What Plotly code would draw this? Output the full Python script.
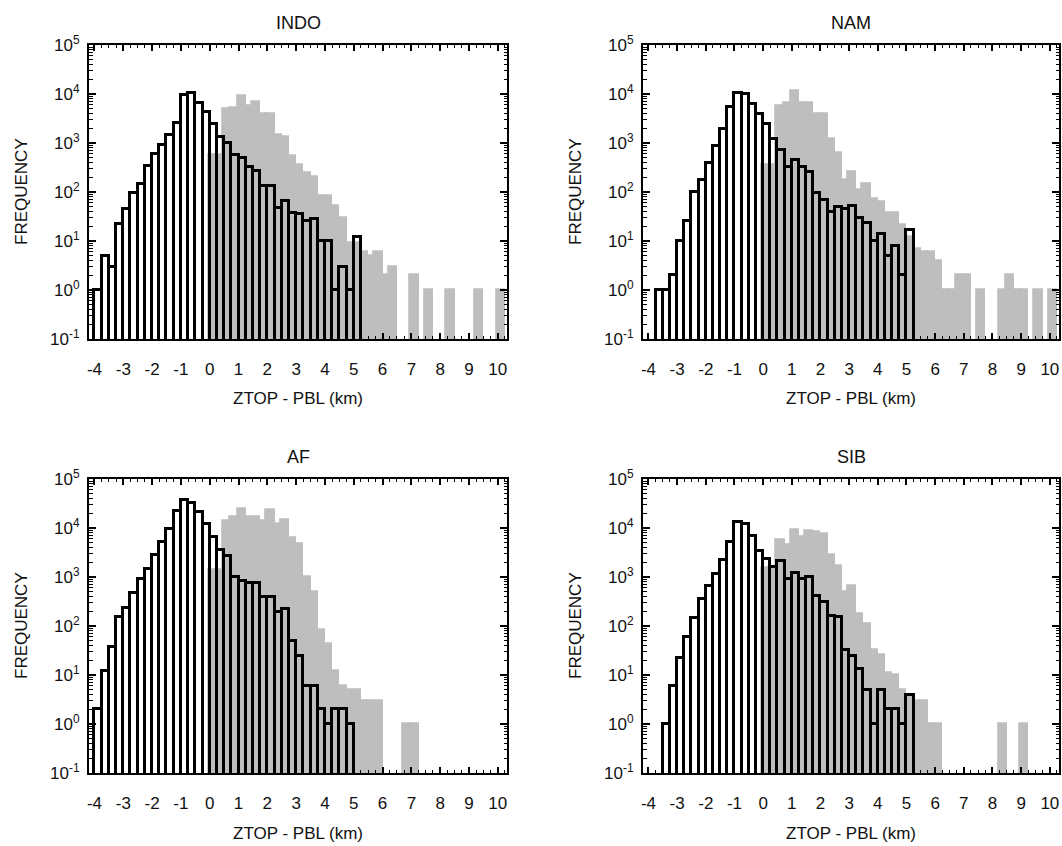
import numpy as np
import plotly.graph_objects as go

# ---------------- data ----------------
BIN_WIDTH = 0.25            # km
GRAY_FIRST_EDGE = -0.035    # left edge of first gray bin (km)

panel_names = ["INDO", "NAM", "AF", "SIB"]

# left edge (km) of the first black-outlined bin in each panel
black_first_edge = {"INDO": -4.0, "NAM": -3.75, "AF": -4.0, "SIB": -3.5}

indo_black = [1, 5, 3, 22, 44, 97, 143, 338, 584, 931, 1490, 2570, 9700, 10300,
              6560, 4230, 2450, 1350, 1000, 560, 500, 322, 268, 132, 130, 48, 65,
              38, 35, 26, 28, 10, 10, 1, 3, 1, 12]
indo_gray = [560, 560, 4950, 5200, 8900, 5700, 6800, 3900, 3900, 1490, 1320, 540,
             360, 245, 200, 83, 83, 53, 30, 9, 9, 6, 5, 6, 2, 3, 0, 0, 2, 0, 1, 0,
             0, 1, 0, 0, 0, 1, 0, 0, 1]

nam_black = [1, 1, 2, 10, 26, 100, 178, 390, 850, 1940, 5500, 10300, 10000, 6300,
             3900, 2450, 1210, 720, 320, 440, 320, 255, 95, 70, 39, 49, 46, 51, 29,
             23, 10, 14, 5, 8, 2, 17]
nam_gray = [350, 350, 5700, 6500, 11500, 6700, 6700, 3900, 3900, 1190, 630, 178,
            255, 108, 147, 73, 63, 37, 37, 21, 12, 7, 6, 6, 4, 1, 1, 2, 2, 0, 1, 0,
            0, 1, 2, 1, 1, 0, 1, 0, 1]

af_black = [2, 12, 38, 155, 236, 475, 890, 1490, 2780, 5100, 9700, 21800, 36700,
            33000, 20800, 12300, 6600, 3500, 2700, 1010, 820, 740, 760, 395, 395,
            193, 218, 49, 24, 6, 6, 2, 1, 2, 2, 1]
af_gray = [1420, 1420, 14000, 16500, 25000, 17000, 16500, 14000, 22800, 12300,
           14700, 6300, 4800, 1010, 490, 81, 42, 12, 6, 5, 5, 3, 3, 3, 0, 0, 0, 1, 1]

sib_black = [1, 6, 22, 61, 143, 360, 650, 1170, 2270, 5200, 13000, 12300, 6900,
             3470, 2340, 1620, 2100, 890, 1210, 890, 1000, 410, 310, 160, 155, 33,
             24, 13, 5, 1, 5, 2, 2, 1, 4]
sib_gray = [1500, 1500, 5600, 4600, 9200, 6600, 8500, 8200, 7500, 2800, 1650, 490,
            670, 172, 108, 33, 26, 11, 10, 5, 4, 3, 3, 1, 1, 0, 0, 0, 0, 0, 0, 0, 0,
            1, 0, 0, 1]

black_counts = {"INDO": indo_black, "NAM": nam_black, "AF": af_black, "SIB": sib_black}
gray_counts = {"INDO": indo_gray, "NAM": nam_gray, "AF": af_gray, "SIB": sib_gray}

x_tick_vals = list(range(-4, 11))
x_tick_text = [str(v) for v in x_tick_vals]
y_tick_vals = [0.1, 1, 10, 100, 1000, 10000, 100000]
y_tick_text = ["10<sup>-1</sup>", "10<sup>0</sup>", "10<sup>1</sup>", "10<sup>2</sup>",
               "10<sup>3</sup>", "10<sup>4</sup>", "10<sup>5</sup>"]
y_minor_vals = [m * 10.0 ** e for e in range(-1, 5) for m in range(2, 10)]

x_title = "ZTOP - PBL (km)"
y_title = "FREQUENCY"

# ---------------- layout geometry (pixels) ----------------
W, H = 1062, 846
cols = [(89, 507), (643, 1059)]
rows = [(45, 339), (479, 773)]
FONT = "Liberation Sans, Arial, Helvetica, sans-serif"
GRAY = "rgb(190,190,190)"
INK = "#111111"


def centers(first_edge, n):
    return first_edge + BIN_WIDTH * (np.arange(n) + 0.5)


def clean(vals):
    return [v if v > 0 else None for v in vals]


fig = go.Figure()
annotations = []
layout_axes = {}

for i, name in enumerate(panel_names):
    r, c = divmod(i, 2)
    x0, x1 = cols[c]
    y0, y1 = rows[r]
    xa = "x" if i == 0 else f"x{i+1}"
    ya = "y" if i == 0 else f"y{i+1}"

    g = gray_counts[name]
    fig.add_trace(go.Bar(
        x=centers(GRAY_FIRST_EDGE, len(g)), y=clean(g), width=BIN_WIDTH,
        marker=dict(color=GRAY, line=dict(color=GRAY, width=2.8)),
        xaxis=xa, yaxis=ya, showlegend=False, hoverinfo="x+y"))
    b = black_counts[name]
    fig.add_trace(go.Bar(
        x=centers(black_first_edge[name], len(b)), y=clean(b), width=BIN_WIDTH,
        marker=dict(color="rgba(0,0,0,0)", line=dict(color="black", width=3)),
        xaxis=xa, yaxis=ya, showlegend=False, hoverinfo="x+y"))

    xkey = "xaxis" if i == 0 else f"xaxis{i+1}"
    ykey = "yaxis" if i == 0 else f"yaxis{i+1}"
    layout_axes[xkey] = dict(
        domain=[x0 / W, x1 / W], anchor=ya, range=[-4.19, 10.32], automargin=False,
        tickmode="array", tickvals=x_tick_vals, ticktext=x_tick_text,
        ticks="inside", ticklen=6, tickwidth=1.5, tickcolor="black",
        minor=dict(dtick=BIN_WIDTH, tick0=0, ticks="inside", ticklen=3,
                   tickwidth=1, tickcolor="black", showgrid=False),
        showline=True, linecolor="black", linewidth=2, mirror="ticks",
        showgrid=False, zeroline=False, ticklabelstandoff=14,
        tickfont=dict(family=FONT, size=17, color=INK))
    layout_axes[ykey] = dict(
        domain=[1 - y1 / H, 1 - y0 / H], anchor=xa, type="log", range=[-1, 5],
        automargin=False,
        tickmode="array", tickvals=y_tick_vals, ticktext=y_tick_text,
        ticks="inside", ticklen=7, tickwidth=1.5, tickcolor="black",
        minor=dict(tickmode="array", tickvals=y_minor_vals, ticks="inside",
                   ticklen=3.5, tickwidth=1, tickcolor="black", showgrid=False),
        showline=True, linecolor="black", linewidth=2, mirror="ticks",
        showgrid=False, zeroline=False, ticklabelstandoff=4,
        tickfont=dict(family=FONT, size=17, color=INK))

    cx = (x0 + x1) / 2 / W
    annotations.append(dict(text=name, x=cx, y=1 - (y0 - 22) / H, xref="paper",
                            yref="paper", showarrow=False, xanchor="center",
                            yanchor="middle", font=dict(family=FONT, size=18, color=INK)))
    annotations.append(dict(text=x_title, x=cx, y=1 - (y1 + 60) / H, xref="paper",
                            yref="paper", showarrow=False, xanchor="center",
                            yanchor="middle", font=dict(family=FONT, size=17, color=INK)))
    annotations.append(dict(text=y_title, x=(x0 - 68) / W, y=1 - (y0 + y1) / 2 / H,
                            xref="paper", yref="paper", showarrow=False, textangle=-90,
                            xanchor="center", yanchor="middle",
                            font=dict(family=FONT, size=17, color=INK)))

fig.update_layout(
    width=W, height=H, margin=dict(l=0, r=0, t=0, b=0, autoexpand=False),
    paper_bgcolor="white", plot_bgcolor="white",
    barmode="overlay", bargap=0, showlegend=False,
    annotations=annotations, **layout_axes)

fig.write_html("out.html",
               config={"displayModeBar": False},
               post_script="document.body.style.margin='0px';"
                           "document.body.style.overflow='hidden';")
